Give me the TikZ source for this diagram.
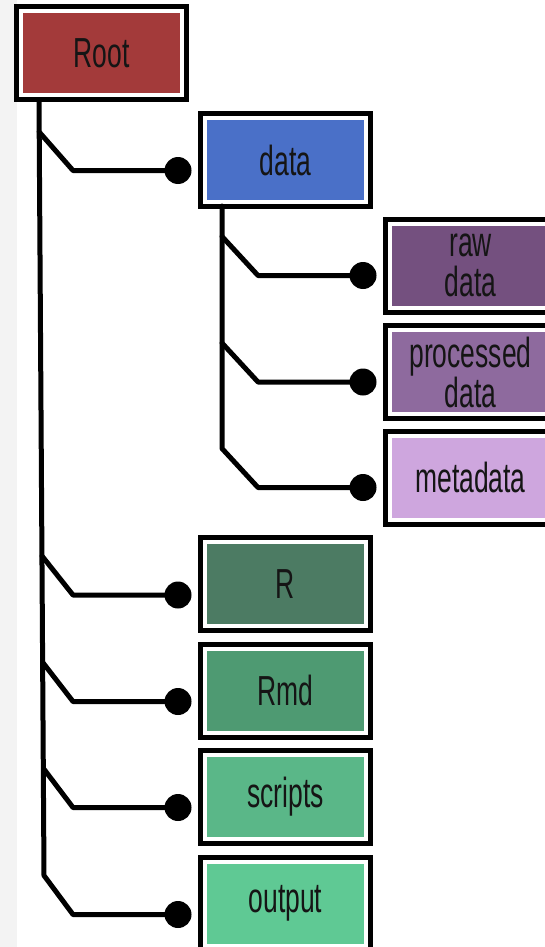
\documentclass[tikz,border=0pt]{standalone}
\usepackage{fontspec}
\setmainfont{Liberation Sans}[FakeStretch=0.63]
\usetikzlibrary{calc}
\definecolor{cRoot}{HTML}{A33A3A}
\definecolor{cData}{HTML}{4A70C8}
\definecolor{cRaw}{HTML}{74507F}
\definecolor{cProc}{HTML}{8E6A9E}
\definecolor{cMeta}{HTML}{CEA6DE}
\definecolor{cR}{HTML}{4C7B63}
\definecolor{cRmd}{HTML}{4E9A72}
\definecolor{cScr}{HTML}{5AB788}
\definecolor{cOut}{HTML}{5FC994}
\definecolor{strip}{HTML}{F3F3F3}
\definecolor{txt}{HTML}{151515}
\tikzset{
  folder/.style={draw=black, line width=5pt, fill=white, minimum width=170pt,
    minimum height=93pt, inner sep=0pt, text=txt, align=center,
    font=\fontsize{42}{40}\selectfont,
    path picture={\fill[#1] ([shift={(6.5pt,-6.5pt)}]path picture bounding box.north west)
      rectangle ([shift={(-6.5pt,6.5pt)}]path picture bounding box.south east);}},
  wire/.style={line width=5pt, line join=round, line cap=round},
  dot/.style={circle, fill=black, draw=none, inner sep=0pt, minimum size=27pt}
}
\begin{document}
\begin{tikzpicture}[x=1pt, y=-1pt]
\useasboundingbox (0,0) rectangle (545,947);
\clip (0,0) rectangle (545,947);
\fill[white] (0,0) rectangle (545,947);
\fill[strip] (0,0) rectangle (17,947);

% nodes
\node[folder=cRoot] (root) at (101.5,53.5) {Root};
\node[folder=cData] (data) at (285.5,160) {data};
\node[folder=cRaw] (raw) at (470.5,265.5) {raw\\data};
\node[folder=cProc] (proc) at (470.5,372) {processed\\data};
\node[folder=cMeta] (meta) at (470.5,477.5) {metadata};
\node[folder=cR] (r) at (285.5,584) {R};
\node[folder=cRmd] (rmd) at (285.5,690.5) {Rmd};
\node[folder=cScr] (scr) at (285.5,796.5) {scripts};
\node[folder=cOut] (out) at (285.5,903.5) {output};

% dots
\node[dot] (ddata) at ($(data.west)+(-20,10.5)$) {};
\node[dot] (draw) at ($(raw.west)+(-20,10)$) {};
\node[dot] (dproc) at ($(proc.west)+(-20,10)$) {};
\node[dot] (dmeta) at ($(meta.west)+(-20,10)$) {};
\node[dot] (dr) at ($(r.west)+(-20,11)$) {};
\node[dot] (drmd) at ($(rmd.west)+(-20,11)$) {};
\node[dot] (dscr) at ($(scr.west)+(-20,11)$) {};
\node[dot] (dout) at ($(out.west)+(-20,11)$) {};

% trunk coordinates
\coordinate (t0) at (39,100);
\coordinate (tA) at (39.2,132);
\coordinate (tR) at (42,556);
\coordinate (tRmd) at (42.8,662.5);
\coordinate (tS) at (43.5,768.5);
\coordinate (tEnd) at (44,875.5);
\coordinate (k) at (73,0);
\coordinate (u0) at (222,206);
\coordinate (uRaw) at (222,236.5);
\coordinate (uProc) at (222,343);
\coordinate (uMeta) at (222,448.5);
\coordinate (m) at (258,0);

% main trunk
\draw[wire] (t0) -- (tEnd) -- (dout.center -| k) -- (dout.center);
\draw[wire] (tA) -- (ddata.center -| k) -- (ddata.center);
\draw[wire] (tR) -- (dr.center -| k) -- (dr.center);
\draw[wire] (tRmd) -- (drmd.center -| k) -- (drmd.center);
\draw[wire] (tS) -- (dscr.center -| k) -- (dscr.center);

% data trunk
\draw[wire] (u0) -- (uMeta) -- (dmeta.center -| m) -- (dmeta.center);
\draw[wire] (uRaw) -- (draw.center -| m) -- (draw.center);
\draw[wire] (uProc) -- (dproc.center -| m) -- (dproc.center);
\end{tikzpicture}
\end{document}
